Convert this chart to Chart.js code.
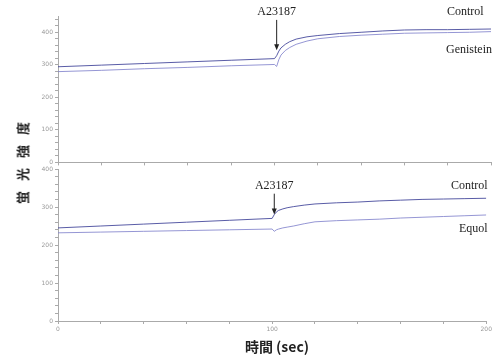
<!DOCTYPE html>
<html>
<head>
<meta charset="utf-8">
<script src="https://cdn.jsdelivr.net/npm/chart.js@4.4.1/dist/chart.umd.min.js"></script>
<style>
    body { margin: 0; background: #fff; }
    #wrap { position: relative; width: 494px; height: 356px; overflow: hidden; }
    canvas { position: absolute; left: 0; }
    #top-chart { top: 0; }
    #bottom-chart { top: 160px; }
    .label { position: absolute; font-family: 'Liberation Serif', serif; font-size: 12px; color: #222; white-space: nowrap; }
    #y-title { position: absolute; left: 22px; top: 158px; transform: translate(-50%, -50%) rotate(-90deg);
        font-family: 'Noto Sans CJK JP', sans-serif; font-weight: bold; font-size: 13px; letter-spacing: 10px; white-space: nowrap; color: #222; }
    #x-title { position: absolute; left: 277px; top: 346px; transform: translate(-50%, -50%);
        font-family: 'Noto Sans CJK JP', sans-serif; font-weight: bold; font-size: 14px; white-space: nowrap; color: #222; }
</style>
</head>
<body>
<div id="wrap">
    <canvas id="top-chart" width="494" height="168"></canvas>
    <canvas id="bottom-chart" width="494" height="196"></canvas>
    <div class="label" style="left:447px; top:4px;">Control</div>
    <div class="label" style="left:446px; top:42px;">Genistein</div>
    <div class="label" style="left:451px; top:178px;">Control</div>
    <div class="label" style="left:459px; top:221px;">Equol</div>
    <div id="y-title">蛍光強度</div>
    <div id="x-title">時間 (sec)</div>
</div>
<script>
// Time points (sec) shared by every trace
const times = [0, 20, 40, 60, 80, 100, 101, 102, 103, 105, 107, 110, 115, 120, 130, 140, 150, 160, 170, 180, 190, 200];

// Top panel: Control vs Genistein
const topControl   = [294, 299, 304, 309, 314, 319, 328, 342, 352, 363, 371, 379, 386, 390, 396, 400, 404, 407, 408, 408, 409, 410];
const topGenistein = [279, 283, 288, 292, 297, 301, 295, 316, 330, 344, 353, 363, 373, 380, 387, 391, 394, 397, 398, 399, 400, 402];

// Bottom panel: Control vs Equol
const bottomControl = [245, 250, 255, 260, 265, 270, 280, 287, 291, 295, 298, 301, 305, 308, 311, 313, 316, 318, 320, 321, 322, 323];
const bottomEquol   = [232, 234, 236, 238, 240, 242, 236, 240, 242, 245, 247, 250, 256, 261, 264, 266, 268, 271, 273, 275, 277, 279];

const xLabels = [0, 100, 200];
const stimulus = { label: 'A23187', time: 101 };

const toPoints = values => values.map((v, i) => ({ x: times[i], y: v }));

// Arrow + "A23187" marker drawn at the stimulus time
const arrowPlugin = {
    id: 'arrow',
    afterDraw(chart, args, opts) {
        const ctx = chart.ctx;
        const x = chart.scales.x.getPixelForValue(stimulus.time);
        const y0 = chart.scales.y.getPixelForValue(opts.from);
        const y1 = chart.scales.y.getPixelForValue(opts.to);
        ctx.save();
        ctx.strokeStyle = '#222';
        ctx.fillStyle = '#222';
        ctx.lineWidth = 1;
        ctx.beginPath();
        ctx.moveTo(x, y0);
        ctx.lineTo(x, y1 - 5);
        ctx.stroke();
        ctx.beginPath();
        ctx.moveTo(x - 2.5, y1 - 6);
        ctx.lineTo(x + 2.5, y1 - 6);
        ctx.lineTo(x, y1);
        ctx.closePath();
        ctx.fill();
        ctx.font = '12px "Liberation Serif", serif';
        ctx.textAlign = 'center';
        ctx.textBaseline = 'middle';
        ctx.fillText(stimulus.label, x, y0 - 8);
        ctx.restore();
    }
};

function makePanel(canvasId, control, other, yMax, padTop, xAxisHeight, showXLabels, arrow) {
    const ctx = document.getElementById(canvasId).getContext('2d');
    return new Chart(ctx, {
        type: 'line',
        data: {
            datasets: [
                { data: toPoints(control), borderColor: 'rgba(60, 64, 150, 0.85)', borderWidth: 1, pointRadius: 0, tension: 0 },
                { data: toPoints(other), borderColor: 'rgba(130, 132, 205, 0.85)', borderWidth: 1, pointRadius: 0, tension: 0 }
            ]
        },
        options: {
            responsive: false,
            animation: false,
            layout: { padding: { top: padTop, right: 3, left: 0, bottom: 0 } },
            plugins: { legend: { display: false }, tooltip: { enabled: false }, arrow: arrow },
            scales: {
                x: {
                    type: 'linear', min: 0, max: 200,
                    afterFit: scale => { scale.height = xAxisHeight; },
                    grid: { drawOnChartArea: false, tickLength: 3, color: '#aaa' },
                    border: { color: '#aaa' },
                    ticks: {
                        stepSize: 20, maxRotation: 0, padding: 2, autoSkip: false,
                        color: '#999', font: { size: 6, family: 'DejaVu Sans' },
                        callback: v => (showXLabels && xLabels.includes(v)) ? v : ''
                    }
                },
                y: {
                    min: 0, max: yMax,
                    afterFit: scale => { scale.width = 58; },
                    afterBuildTicks: scale => {
                        const ticks = [];
                        for (let v = 0; v <= yMax; v += 20) ticks.push({ value: v });
                        scale.ticks = ticks;
                    },
                    grid: { drawOnChartArea: false, tickLength: 3, color: '#aaa' },
                    border: { color: '#aaa' },
                    ticks: {
                        padding: 2, autoSkip: false, color: '#999', font: { size: 6, family: 'DejaVu Sans' },
                        callback: v => (v % 100 === 0 && v <= 400) ? v : ''
                    }
                }
            }
        },
        plugins: [arrowPlugin]
    });
}

makePanel('top-chart', topControl, topGenistein, 450, 16, 5, false, { from: 438, to: 345 });
makePanel('bottom-chart', bottomControl, bottomEquol, 400, 9, 35, true, { from: 335, to: 280 });
</script>
</body>
</html>
